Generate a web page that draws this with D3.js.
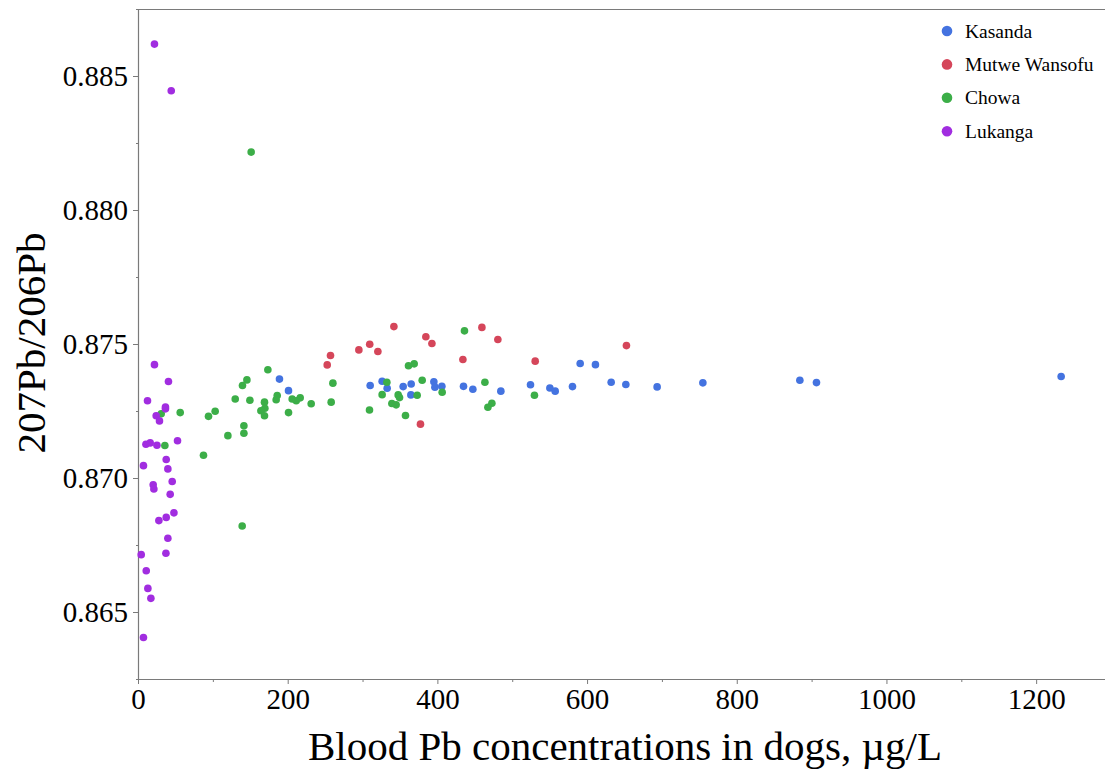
<!DOCTYPE html>
<html>
<head>
<meta charset="utf-8">
<script src="https://cdn.jsdelivr.net/npm/d3@7"></script>
<style>
  html, body { margin: 0; padding: 0; background: #fff; }
  svg { display: block; }
  text { font-family: "Liberation Serif", "Times New Roman", serif; fill: #000; }
</style>
</head>
<body>
<svg id="chart" width="1105" height="771"></svg>
<script>
// Sites, in drawing order
const sites = ["Kasanda", "Mutwe Wansofu", "Chowa", "Lukanga"];
const siteColors = ["#4473e0", "#d5465a", "#3cae48", "#a12de0"];

// Blood Pb (µg/L) and 207Pb/206Pb ratio per dog, by site
const kasandaPb = [189.0, 201.1, 310.2, 326.2, 332.9, 354.3, 365.0, 364.6, 395.3, 396.7, 406.0, 434.9, 447.4, 484.8, 524.4, 550.3, 557.4, 580.5, 590.8, 611.2, 632.2, 651.8, 693.6, 754.7, 884.3, 906.5, 1233.4];
const kasandaRatio = [0.87369, 0.87326, 0.87345, 0.87361, 0.87335, 0.87341, 0.87351, 0.87310, 0.87359, 0.87339, 0.87342, 0.87342, 0.87331, 0.87324, 0.87348, 0.87336, 0.87324, 0.87341, 0.87427, 0.87423, 0.87357, 0.87349, 0.87340, 0.87355, 0.87365, 0.87356, 0.87379];

const mutwePb = [252.8, 257.2, 295.1, 309.6, 320.5, 341.9, 384.6, 392.7, 377.4, 434.1, 459.5, 480.8, 530.7, 652.6];
const mutweRatio = [0.87422, 0.87457, 0.87478, 0.87499, 0.87472, 0.87565, 0.87527, 0.87502, 0.87201, 0.87442, 0.87562, 0.87517, 0.87436, 0.87494];

const chowaPb = [151.2, 31.0, 56.4, 94.2, 103.1, 173.5, 145.5, 139.6, 129.9, 149.5, 186.0, 184.6, 169.0, 169.5, 164.2, 169.0, 201.1, 206.0, 211.4, 216.7, 231.4, 141.5, 141.5, 120.1, 87.5, 35.9, 260.4, 258.1, 332.5, 326.2, 309.3, 339.2, 344.9, 347.6, 349.4, 373.0, 357.4, 361.4, 369.0, 379.7, 406.4, 436.2, 463.5, 472.8, 467.5, 529.7, 139.2];
const chowaRatio = [0.88216, 0.87240, 0.87244, 0.87230, 0.87249, 0.87404, 0.87366, 0.87345, 0.87295, 0.87290, 0.87308, 0.87292, 0.87283, 0.87260, 0.87251, 0.87232, 0.87244, 0.87295, 0.87288, 0.87299, 0.87277, 0.87195, 0.87167, 0.87158, 0.87085, 0.87121, 0.87354, 0.87283, 0.87357, 0.87311, 0.87254, 0.87278, 0.87273, 0.87310, 0.87300, 0.87309, 0.87233, 0.87419, 0.87426, 0.87365, 0.87320, 0.87549, 0.87357, 0.87279, 0.87264, 0.87309, 0.86821];

const lukangaPb = [22.0, 44.4, 22.0, 40.7, 12.7, 36.7, 36.7, 24.3, 28.7, 10.6, 16.3, 25.3, 52.8, 37.7, 7.3, 39.9, 45.7, 20.3, 21.2, 43.0, 48.0, 37.7, 27.9, 39.9, 4.3, 37.3, 11.0, 13.2, 17.2, 7.3];
const lukangaRatio = [0.88619, 0.88445, 0.87423, 0.87360, 0.87288, 0.87265, 0.87258, 0.87232, 0.87213, 0.87126, 0.87131, 0.87122, 0.87139, 0.87069, 0.87046, 0.87034, 0.86987, 0.86975, 0.86959, 0.86939, 0.86870, 0.86853, 0.86841, 0.86775, 0.86714, 0.86719, 0.86654, 0.86588, 0.86551, 0.86405];

// Axis ticks
const xMajorTicks = [0, 200, 400, 600, 800, 1000, 1200];
const xMinorTicks = [100, 300, 500, 700, 900, 1100];
const yMajorTicks = [0.865, 0.870, 0.875, 0.880, 0.885];
const yMinorTicks = [0.8625, 0.8675, 0.8725, 0.8775, 0.8825, 0.8875];

const xTitle = "Blood Pb concentrations in dogs, µg/L";
const yTitle = "207Pb/206Pb";

const seriesPb = [kasandaPb, mutwePb, chowaPb, lukangaPb];
const seriesRatio = [kasandaRatio, mutweRatio, chowaRatio, lukangaRatio];

const svg = d3.select("#chart");
const plotLeft = 138, plotRight = 1105, plotTop = 9, plotBottom = 679;

const x = d3.scaleLinear().domain([0, 1292]).range([plotLeft, plotRight]);
const y = d3.scaleLinear().domain([0.8625, 0.8875]).range([plotBottom, plotTop]);

const axisColor = "#7a7a7a";

// Top frame line
svg.append("line")
  .attr("x1", plotLeft).attr("x2", plotRight)
  .attr("y1", plotTop + 0.5).attr("y2", plotTop + 0.5)
  .attr("stroke", axisColor).attr("stroke-width", 1.2);

// X axis
const gx = svg.append("g").attr("transform", `translate(0,${plotBottom})`);
gx.call(d3.axisBottom(x).tickValues(xMajorTicks).tickSize(5).tickPadding(4).tickSizeOuter(0).tickFormat(d3.format("d")));
gx.append("g").call(d3.axisBottom(x).tickValues(xMinorTicks).tickSize(3).tickFormat(""))
  .select(".domain").remove();

// Y axis
const gy = svg.append("g").attr("transform", `translate(${plotLeft},0)`);
gy.call(d3.axisLeft(y).tickValues(yMajorTicks).tickSize(5).tickPadding(5).tickSizeOuter(0).tickFormat(d3.format(".3f")));
gy.append("g").call(d3.axisLeft(y).tickValues(yMinorTicks).tickSize(2).tickFormat(""))
  .select(".domain").remove();

svg.selectAll(".domain").attr("stroke", axisColor).attr("stroke-width", 1.2);
svg.selectAll(".tick line").attr("stroke", axisColor).attr("stroke-width", 1);
gx.selectAll(".tick text")
  .style("font-family", '"Liberation Serif", serif')
  .style("font-size", "29px").attr("fill", "#000");
gy.selectAll(".tick text")
  .style("font-family", '"Liberation Serif", serif')
  .style("font-size", "29px").attr("fill", "#000")
  .attr("dy", "0.34em");

// Axis titles
svg.append("text")
  .attr("x", 625).attr("y", 760)
  .attr("text-anchor", "middle")
  .style("font-size", "41px")
  .text(xTitle);

svg.append("text")
  .attr("transform", "translate(45,343) rotate(-90)")
  .attr("text-anchor", "middle")
  .style("font-size", "41px")
  .text(yTitle);

// Points
sites.forEach((site, i) => {
  const pts = d3.zip(seriesPb[i], seriesRatio[i]);
  svg.append("g")
    .selectAll("circle")
    .data(pts)
    .join("circle")
    .attr("cx", d => x(d[0]))
    .attr("cy", d => y(d[1]))
    .attr("r", 3.8)
    .attr("fill", siteColors[i]);
});

// Legend
const legend = svg.append("g").attr("transform", "translate(947,31)");
sites.forEach((site, i) => {
  const row = legend.append("g").attr("transform", `translate(0,${i * 33.4})`);
  row.append("circle").attr("r", 5.3).attr("fill", siteColors[i]);
  row.append("text")
    .attr("x", 18).attr("y", 6.5)
    .style("font-size", "19.5px")
    .text(site);
});
</script>
</body>
</html>
